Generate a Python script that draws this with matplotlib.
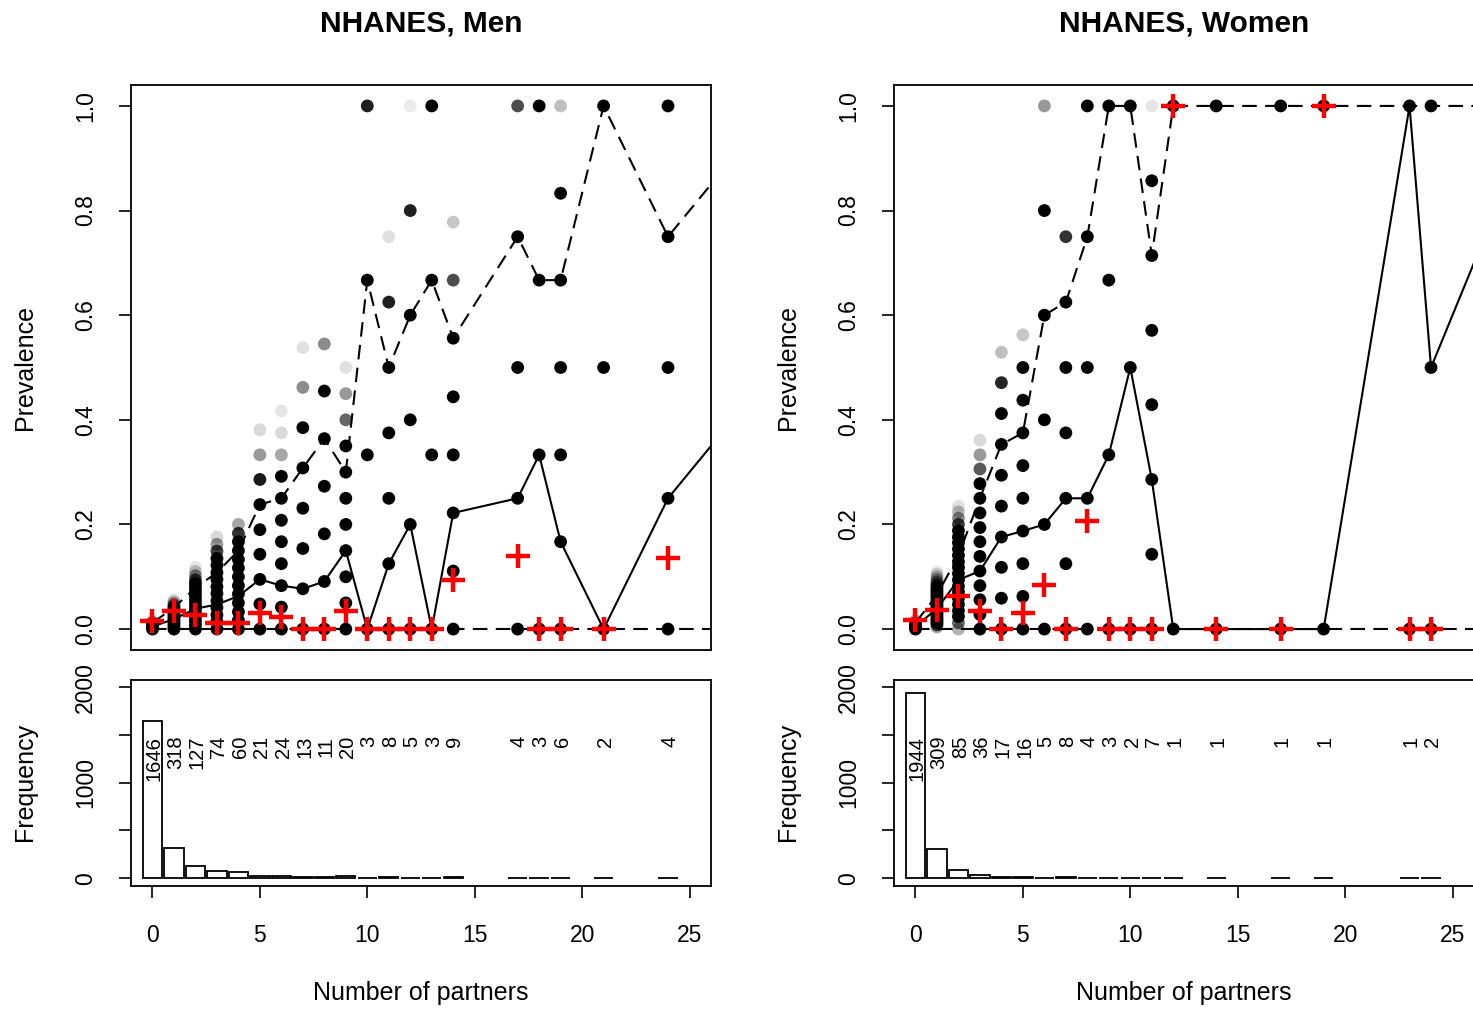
import matplotlib
matplotlib.use('Agg')
import matplotlib.pyplot as plt

plt.rcParams['font.family'] = ['Liberation Sans', 'DejaVu Sans']

# ---------------- Men ----------------
men_x = [0, 1, 2, 3, 4, 5, 6, 7, 8, 9, 10, 11, 12, 13, 14, 17, 18, 19, 21, 24]
men_n = [1646, 318, 127, 74, 60, 21, 24, 13, 11, 20, 3, 8, 5, 3, 9, 4, 3, 6, 2, 4]
men_obs = [0.016, 0.034, 0.027, 0.011, 0.011, 0.031, 0.024, 0, 0, 0.035,
           0, 0, 0, 0, 0.094, 0.139, 0, 0, 0, 0.136]
men_median = [0.005, 0.019, 0.039, 0.047, 0.063, 0.095, 0.083, 0.077, 0.091, 0.15,
              0, 0.125, 0.2, 0, 0.222, 0.25, 0.333, 0.167, 0, 0.25]
men_upper = [0.012, 0.041, 0.079, 0.108, 0.15, 0.238, 0.25, 0.308, 0.364, 0.30,
             0.667, 0.5, 0.6, 0.667, 0.556, 0.75, 0.667, 0.667, 1.0, 0.75]
men_lower = [0, 0, 0, 0, 0, 0, 0, 0, 0, 0, 0, 0, 0, 0, 0, 0, 0, 0, 0, 0]
men_tail = (29, 0.5, 1.0, 0.0)   # next point beyond the visible range (x, median, upper, lower)

men_dot_y = {
    0: [0, 0.003, 0.006, 0.009, 0.012, 0.015],
    1: [0, 0.005, 0.01, 0.015, 0.02, 0.025, 0.03, 0.035, 0.04, 0.044, 0.048, 0.052, 0.056],
    2: [0, .008, .016, .024, .031, .039, .047, .055, .063, .071, .079, .087, .094, .102, .110, .118],
    3: [0, .014, .027, .041, .054, .068, .081, .095, .108, .122, .135, .149, .162, .176],
    4: [0, .017, .033, .05, .067, .083, .1, .117, .133, .15, .167, .183, .2],
    5: [0, .048, .095, .143, .190, .238, .286, .333, .381],
    6: [0, .042, .083, .125, .167, .208, .25, .292, .333, .375, .417],
    7: [0, .077, .154, .231, .308, .385, .462, .538],
    8: [0, .091, .182, .273, .364, .455, .545],
    9: [0, .05, .1, .15, .2, .25, .3, .35, .4, .45, .5],
    10: [0, .333, .667, 1.0],
    11: [0, .125, .25, .375, .5, .625, .75],
    12: [0, .2, .4, .6, .8, 1.0],
    13: [0, .333, .667, 1.0],
    14: [0, .111, .222, .333, .444, .556, .667, .778],
    17: [0, .25, .5, .75, 1.0],
    18: [0, .333, .667, 1.0],
    19: [0, .167, .333, .5, .667, .833, 1.0],
    21: [0, .5, 1.0],
    24: [0, .25, .5, .75, 1.0],
}
men_dot_a = {
    0: [1, 1, 1, 1, .6, .25],
    1: [1, 1, 1, 1, 1, 1, 1, 1, 1, .7, .45, .25, .1],
    2: [1, 1, 1, 1, 1, 1, 1, 1, 1, 1, 1, 1, .75, .45, .22, .1],
    3: [1, 1, 1, 1, 1, 1, 1, 1, 1, 1, 1, .75, .4, .15],
    4: [1, 1, 1, 1, 1, 1, 1, 1, 1, 1, 1, .8, .35],
    5: [1, 1, 1, 1, 1, 1, .9, .4, .15],
    6: [1, 1, 1, 1, 1, 1, 1, 1, .35, .15, .1],
    7: [1, 1, 1, 1, 1, 1, .45, .12],
    8: [1, 1, 1, 1, 1, 1, .45],
    9: [1, 1, 1, 1, 1, 1, 1, 1, .6, .4, .12],
    10: [1, 1, 1, .88],
    11: [1, 1, 1, 1, 1, .88, .12],
    12: [1, 1, 1, 1, .88, .08],
    13: [1, 1, 1, 1],
    14: [1, 1, 1, 1, 1, 1, .7, .22],
    17: [1, 1, 1, 1, .7],
    18: [1, 1, 1, 1],
    19: [1, 1, 1, 1, 1, 1, .25],
    21: [1, 1, 1],
    24: [1, 1, 1, 1, 1],
}

# ---------------- Women ----------------
wom_x = [0, 1, 2, 3, 4, 5, 6, 7, 8, 9, 10, 11, 12, 14, 17, 19, 23, 24]
wom_n = [1944, 309, 85, 36, 17, 16, 5, 8, 4, 3, 2, 7, 1, 1, 1, 1, 1, 2]
wom_obs = [0.018, 0.036, 0.063, 0.035, 0, 0.031, 0.085, 0, 0.207, 0,
           0, 0, 1.0, 0, 0, 1.0, 0, 0]
wom_median = [0.005, 0.039, 0.094, 0.111, 0.176, 0.1875, 0.2, 0.25, 0.25, 0.333,
              0.5, 0.286, 0, 0, 0, 0, 1.0, 0.5]
wom_upper = [0.012, 0.065, 0.141, 0.25, 0.353, 0.375, 0.6, 0.625, 0.75, 1.0,
             1.0, 0.714, 1.0, 1.0, 1.0, 1.0, 1.0, 1.0]
wom_lower = [0, 0, 0, 0, 0, 0, 0, 0, 0, 0, 0, 0, 0, 0, 0, 0, 0, 0]
wom_tail = (29, 1.0, 1.0, 0.0)

wom_dot_y = {
    0: [0, .004, .008, .012, .016],
    1: [.004, .008, .012, .016, .02, .025, .03, .035, .04, .045, .05, .055, .06, .065,
        .07, .075, .08, .085, .09, .095, .1, .105, .11],
    2: [0, .012, .024, .035, .047, .059, .071, .082, .094, .106, .118, .129, .141, .153,
        .165, .176, .188, .2, .212, .224, .235],
    3: [0, .028, .056, .083, .111, .139, .167, .194, .222, .25, .278, .306, .333, .361],
    4: [0, .059, .118, .176, .235, .294, .353, .412, .471, .529],
    5: [0, .0625, .125, .1875, .25, .3125, .375, .4375, .5, .5625],
    6: [0, .2, .4, .6, .8, 1.0],
    7: [0, .125, .25, .375, .5, .625, .75],
    8: [0, .25, .5, .75, 1.0],
    9: [0, .333, .667, 1.0],
    10: [0, .5, 1.0],
    11: [0, .143, .286, .429, .571, .714, .857, 1.0],
    12: [0, 1.0],
    14: [0, 1.0],
    17: [0, 1.0],
    19: [0, 1.0],
    23: [0, 1.0],
    24: [0, .5, 1.0],
}
wom_dot_a = {
    0: [1, 1, 1, .7, .3],
    1: [.35, .7, 1, 1, 1, 1, 1, 1, 1, 1, 1, 1, 1, 1, 1, 1, 1, .7, .5, .35, .25, .15, .08],
    2: [.3, .6, 1, 1, 1, 1, 1, 1, 1, 1, 1, 1, 1, 1, 1, 1, 1, .75, .45, .25, .12],
    3: [1, 1, 1, 1, 1, 1, 1, 1, 1, 1, 1, .65, .4, .15],
    4: [1, 1, 1, 1, 1, 1, 1, 1, .85, .25],
    5: [1, 1, 1, 1, 1, 1, 1, 1, 1, .22],
    6: [1, 1, 1, 1, 1, .4],
    7: [1, 1, 1, 1, 1, 1, .8],
    8: [1, 1, 1, 1, 1],
    9: [1, 1, 1, 1],
    10: [1, 1, 1],
    11: [1, 1, 1, 1, 1, 1, 1, .1],
    12: [1, 1],
    14: [1, 1],
    17: [1, 1],
    19: [1, 1],
    23: [1, 1],
    24: [1, 1, 1],
}

prev_ticks = [0.0, 0.2, 0.4, 0.6, 0.8, 1.0]
prev_labels = ['0.0', '0.2', '0.4', '0.6', '0.8', '1.0']
freq_ticks = [0, 500, 1000, 1500, 2000]
freq_labels = ['0', '', '1000', '', '2000']
x_ticks = [0, 5, 10, 15, 20, 25]

W, H = 1473, 1010
fig = plt.figure(figsize=(W / 100, H / 100), dpi=100)


def px_axes(left, right, top, bottom):
    return fig.add_axes([left / W, 1 - bottom / H, (right - left) / W, (bottom - top) / H])


def style(ax):
    for s in ax.spines.values():
        s.set_linewidth(1.3)
    ax.tick_params(direction='out', length=8.5, width=1.2, labelsize=16.5)


def panel(left, title, xs, ns, obs, med, upp, low, tail, dot_y, dot_a):
    right = left + 580
    top = px_axes(left, right, 85, 650)
    bot = px_axes(left, right, 680, 886)
    cx = (left + right) / 2

    dx, dy, dc = [], [], []
    for x in xs:
        for y, a in zip(dot_y[x], dot_a[x]):
            dx.append(x)
            dy.append(y)
            dc.append((0, 0, 0, a))
    top.scatter(dx, dy, s=85, c=dc, edgecolors='none', zorder=3)

    lx = xs + [tail[0]]
    top.plot(lx, med + [tail[1]], color='black', lw=1.5, zorder=4)
    top.plot(lx, upp + [tail[2]], color='black', lw=1.5, ls=(0, (7, 4)), zorder=4)
    top.plot(lx, low + [tail[3]], color='black', lw=1.5, ls=(0, (7, 4)), zorder=4)
    top.plot(xs, obs, ls='none', marker='+', ms=17, mew=3.2, color='red', zorder=5)

    top.set_xlim(-1, 26)
    top.set_ylim(-0.04, 1.04)
    top.set_xticks([])
    top.set_yticks(prev_ticks)
    top.set_yticklabels(prev_labels)
    style(top)

    bot.bar(xs, ns, width=0.9, color='white', edgecolor='black', lw=1.3, zorder=2)
    for x, n in zip(xs, ns):
        bot.text(x + 0.08, 1490, str(n), rotation=90, ha='center', va='top', fontsize=14.5)
    bot.set_xlim(-1, 26)
    bot.set_ylim(-82, 2075)
    bot.set_yticks(freq_ticks)
    bot.set_yticklabels(freq_labels)
    bot.set_xticks(x_ticks)
    style(bot)
    bot.tick_params(axis='x', pad=19)

    for ax in (top, bot):
        ax.tick_params(axis='y', pad=16)
        for lab in ax.get_yticklabels():
            lab.set_rotation(90)
            lab.set_va('center')
            lab.set_ha('right')

    fig.text(cx / W, 1 - 23 / H, title, ha='center', va='center', fontsize=21.5, fontweight='bold')
    fig.text((left - 106) / W, 1 - 367 / H, 'Prevalence', rotation=90, ha='center', va='center', fontsize=18)
    fig.text((left - 106) / W, 1 - 782 / H, 'Frequency', rotation=90, ha='center', va='center', fontsize=18)
    fig.text(cx / W, 1 - 993 / H, 'Number of partners', ha='center', va='center', fontsize=18)


panel(131, 'NHANES, Men', men_x, men_n, men_obs, men_median, men_upper, men_lower,
      men_tail, men_dot_y, men_dot_a)
panel(894, 'NHANES, Women', wom_x, wom_n, wom_obs, wom_median, wom_upper, wom_lower,
      wom_tail, wom_dot_y, wom_dot_a)

fig.savefig('out.png', dpi=100)
